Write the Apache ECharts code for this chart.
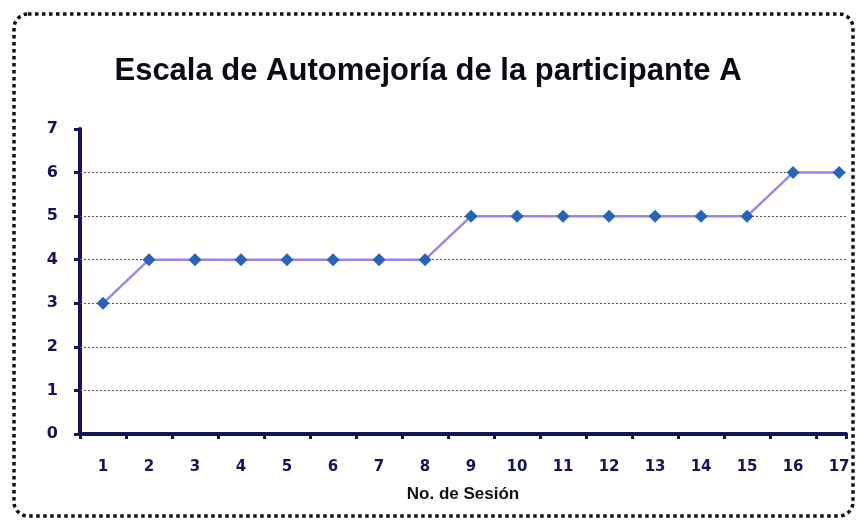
<!DOCTYPE html>
<html>
<head>
<meta charset="utf-8">
<script src="https://cdn.jsdelivr.net/npm/echarts@6/dist/echarts.min.js"></script>
<style>
  html, body { margin: 0; padding: 0; background: #fff; }
  #container { width: 856px; height: 520px; }
</style>
</head>
<body>
<div id="container"></div>
<script>
// datos
var sesiones = [1, 2, 3, 4, 5, 6, 7, 8, 9, 10, 11, 12, 13, 14, 15, 16, 17];
var puntajes = [3, 4, 4, 4, 4, 4, 4, 4, 5, 5, 5, 5, 5, 5, 5, 6, 6];
var yTicks = [0, 1, 2, 3, 4, 5, 6, 7];
var lineasGuia = [1, 2, 3, 4, 5, 6];

var xMax = 17.15;

var dom = document.getElementById('container');
var myChart = echarts.init(dom, null, { renderer: 'canvas' });

var serieData = [];
for (var i = 0; i < sesiones.length; i++) {
  serieData.push([sesiones[i], puntajes[i]]);
}
var ticksX = sesiones.map(function (s) { return s - 0.5; });
ticksX.push(xMax);

var navy = '#14145a';

var option = {
  backgroundColor: '#fff',
  animation: false,
  title: {
    text: 'Escala de Automejoría de la participante A',
    left: 'center',
    top: 51,
    textStyle: {
      fontFamily: 'Liberation Sans',
      fontWeight: 'bold',
      fontSize: 31,
      color: '#0a0a14'
    }
  },
  graphic: [{
    type: 'rect',
    shape: { x: 14, y: 14, width: 839, height: 502, r: 14 },
    style: { fill: 'none', stroke: '#111', lineWidth: 3.5, lineDash: [3.5, 3.5] },
    silent: true
  }],
  grid: { left: 80, right: 10, top: 129, bottom: 86 },
  xAxis: {
    type: 'value',
    min: 0.5,
    max: xMax,
    name: 'No. de Sesión',
    nameLocation: 'middle',
    nameGap: 52,
    nameTextStyle: {
      fontFamily: 'Liberation Sans',
      fontWeight: 'bold',
      fontSize: 17,
      color: '#111'
    },
    axisLine: { lineStyle: { color: navy, width: 4 } },
    axisTick: { show: true, customValues: ticksX, length: 5, lineStyle: { color: navy, width: 3 } },
    axisLabel: {
      customValues: sesiones,
      margin: 26,
      fontFamily: 'DejaVu Sans',
      fontWeight: 'bold',
      fontSize: 15,
      color: navy
    },
    splitLine: { show: false }
  },
  yAxis: {
    type: 'value',
    min: 0,
    max: 7,
    interval: 1,
    axisLine: { show: true, lineStyle: { color: navy, width: 4 } },
    axisTick: { show: true, length: 6, lineStyle: { color: navy, width: 3 } },
    axisLabel: {
      customValues: yTicks,
      margin: 22,
      fontFamily: 'DejaVu Sans',
      fontWeight: 'bold',
      fontSize: 16,
      color: navy
    },
    splitLine: { show: false }
  },
  series: [{
    type: 'line',
    data: serieData,
    symbol: 'diamond',
    symbolSize: 13,
    itemStyle: { color: '#2763b8' },
    lineStyle: { color: '#9c84e8', width: 2.5 },
    z: 5,
    markLine: {
      silent: true,
      symbol: ['none', 'none'],
      label: { show: false },
      lineStyle: { color: '#555', type: [2, 2], width: 1 },
      data: lineasGuia.map(function (v) { return { yAxis: v }; }),
      z: 1
    }
  }]
};

myChart.setOption(option);
window.addEventListener('resize', myChart.resize);
</script>
</body>
</html>
